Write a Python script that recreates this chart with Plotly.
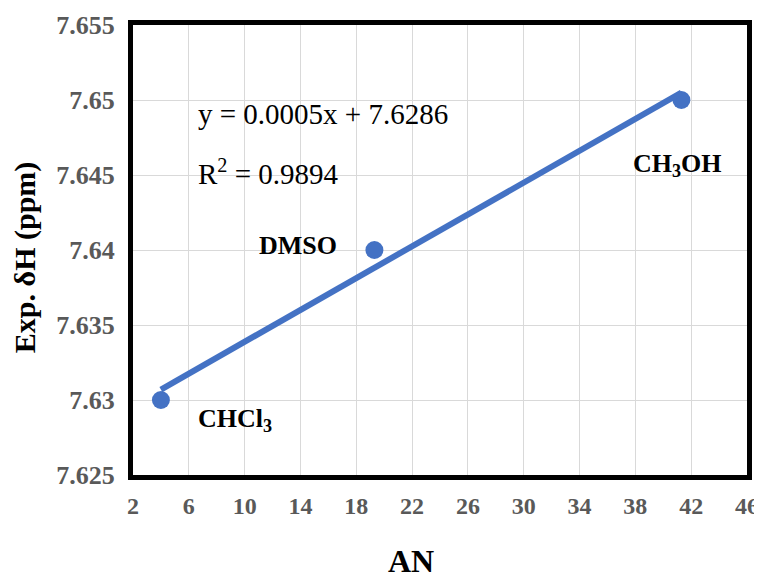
import numpy as np
import plotly.graph_objects as go

solvents = ["CHCl<sub>3</sub>", "DMSO", "CH<sub>3</sub>OH"]
an_values = [4.0, 19.3, 41.3]
delta_h = [7.630, 7.640, 7.650]
x_ticks = [2, 6, 10, 14, 18, 22, 26, 30, 34, 38, 42, 46]
y_ticks = [7.625, 7.63, 7.635, 7.64, 7.645, 7.65, 7.655]
y_tick_text = ["7.625", "7.63", "7.635", "7.64", "7.645", "7.65", "7.655"]

blue = "#4472C4"
serif = "Liberation Serif"

slope, intercept = np.polyfit(an_values, delta_h, 1)
fit_x = [min(an_values), max(an_values)]
fit_y = [slope * v + intercept for v in fit_x]

fig = go.Figure()
fig.add_trace(go.Scatter(x=an_values, y=delta_h, mode="markers",
                         marker=dict(color=blue, size=18), showlegend=False))
fig.add_trace(go.Scatter(x=fit_x, y=fit_y, mode="lines",
                         line=dict(color=blue, width=6), showlegend=False))

label_pos = [(9.3, 7.6287), (13.8, 7.6403), (41.0, 7.6457)]
for name, (lx, ly) in zip(solvents, label_pos):
    fig.add_annotation(x=lx, y=ly, xref="x", yref="y", text=f"<b>{name}</b>",
                       showarrow=False, font=dict(family=serif, size=26, color="black"))

fig.add_annotation(x=6.5, y=7.6491, xref="x", yref="y", xanchor="left",
                   text="y = 0.0005x + 7.6286", showarrow=False,
                   font=dict(family=serif, size=29, color="black"))
fig.add_annotation(x=6.5, y=7.6452, xref="x", yref="y", xanchor="left",
                   text="R<sup>2</sup> = 0.9894", showarrow=False,
                   font=dict(family=serif, size=29, color="black"))

# axis titles
fig.add_annotation(x=0.453, y=-0.192, xref="paper", yref="paper", text="<b>AN</b>",
                   xanchor="center", yanchor="middle",
                   showarrow=False, font=dict(family=serif, size=32, color="black"))
fig.add_annotation(x=-0.176, y=0.484, xref="paper", yref="paper",
                   text="<b>Exp. δH (ppm)</b>", textangle=-90,
                   xanchor="center", yanchor="middle",
                   showarrow=False, font=dict(family=serif, size=30, color="black"))

fig.update_xaxes(range=[2, 46], tickvals=x_ticks, showgrid=True, gridcolor="#d9d9d9",
                 gridwidth=1, zeroline=False, showline=True, linecolor="black",
                 linewidth=5, mirror=True, ticks="", ticklabelstandoff=5,
                 automargin=False, ticklabeloverflow="allow",
                 tickfont=dict(family=serif, size=24, color="#595959", weight="bold"))
fig.update_yaxes(range=[7.625, 7.655], tickvals=y_ticks, ticktext=y_tick_text,
                 showgrid=True, gridcolor="#d9d9d9", gridwidth=1, zeroline=False,
                 showline=True, linecolor="black", linewidth=5, mirror=True, ticks="",
                 ticklabelstandoff=8, automargin=False,
                 tickfont=dict(family=serif, size=26, color="#595959", weight="bold"))

fig.update_layout(width=754, height=570, margin=dict(l=125, r=15, t=17, b=103),
                  plot_bgcolor="white", paper_bgcolor="white")

fig.write_html("out.html")
